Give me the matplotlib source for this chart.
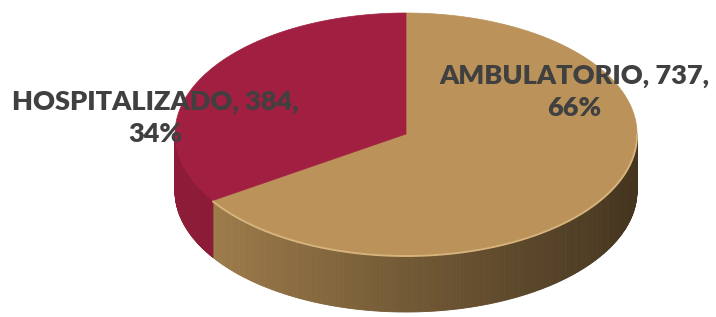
import numpy as np
import matplotlib
matplotlib.use("Agg")
import matplotlib.pyplot as plt
from matplotlib.colors import to_rgb

categories = ["AMBULATORIO", "HOSPITALIZADO"]
values = [737, 384]
top_colors = ["#BA925A", "#A11F40"]
side_left = ["#A8844F", "#8E1C38"]
side_right = ["#45351F", "#7A1530"]

cx, cy, rx, ry, depth = 406, 134, 231, 121, 57

fig = plt.figure(figsize=(7.16, 3.17), dpi=100)
ax = fig.add_axes([0, 0, 1, 1])
ax.set_xlim(0, 716)
ax.set_ylim(317, 0)
ax.axis("off")


def edge(t):
    t = np.radians(t)
    return cx + rx * np.cos(t), cy - ry * np.sin(t)


def mix(c1, c2, f):
    a, b = np.array(to_rgb(c1)), np.array(to_rgb(c2))
    return a + (b - a) * f


# slice angles, clockwise from 12 o'clock
total = sum(values)
spans = []
start = 90.0
for v in values:
    end = start - 360.0 * v / total
    spans.append((end, start))
    start = end

# visible side wall (front half: 180..360 deg)
for i, (a0, a1) in enumerate(spans):
    ts = np.linspace(a0, a1, 400)
    ts = ts[(ts % 360 >= 180)]
    if len(ts) < 2:
        continue
    for ta, tb in zip(ts[:-1], ts[1:]):
        xa, ya = edge(ta)
        xb, yb = edge(tb)
        f = np.clip(((xa + xb) / 2 - (cx - rx)) / (2 * rx), 0, 1)
        col = mix(side_left[i], side_right[i], f ** 0.9)
        ax.fill([xa, xb, xb, xa], [ya, yb, yb + depth, ya + depth],
                color=col, lw=0.6, ec=col, zorder=1)

# top faces
for i, (a0, a1) in enumerate(spans):
    ts = np.linspace(a0, a1, 300)
    xs, ys = edge(ts)
    ax.fill(np.r_[cx, xs, cx], np.r_[cy, ys, cy], color=top_colors[i],
            ec=top_colors[i], lw=0.5, zorder=2)

# light rim along the front edge
ts = np.linspace(spans[0][0] % 360, 360, 200)
xs, ys = edge(ts)
ax.plot(xs, ys + 1, color="#D8B47C", lw=1.4, zorder=3, solid_capstyle="round")

# labels
pct = [round(100 * v / total) for v in values]
lbl_pos = [(574, 92), (155, 118)]
for i, (x, y) in enumerate(lbl_pos):
    ax.text(x, y, f"{categories[i]}, {values[i]},\n{pct[i]}%", ha="center",
            va="center", fontsize=19.5, fontweight="heavy", color="#404040",
            family="Lato", linespacing=1.45, zorder=4)

fig.savefig("out.png", dpi=100)
